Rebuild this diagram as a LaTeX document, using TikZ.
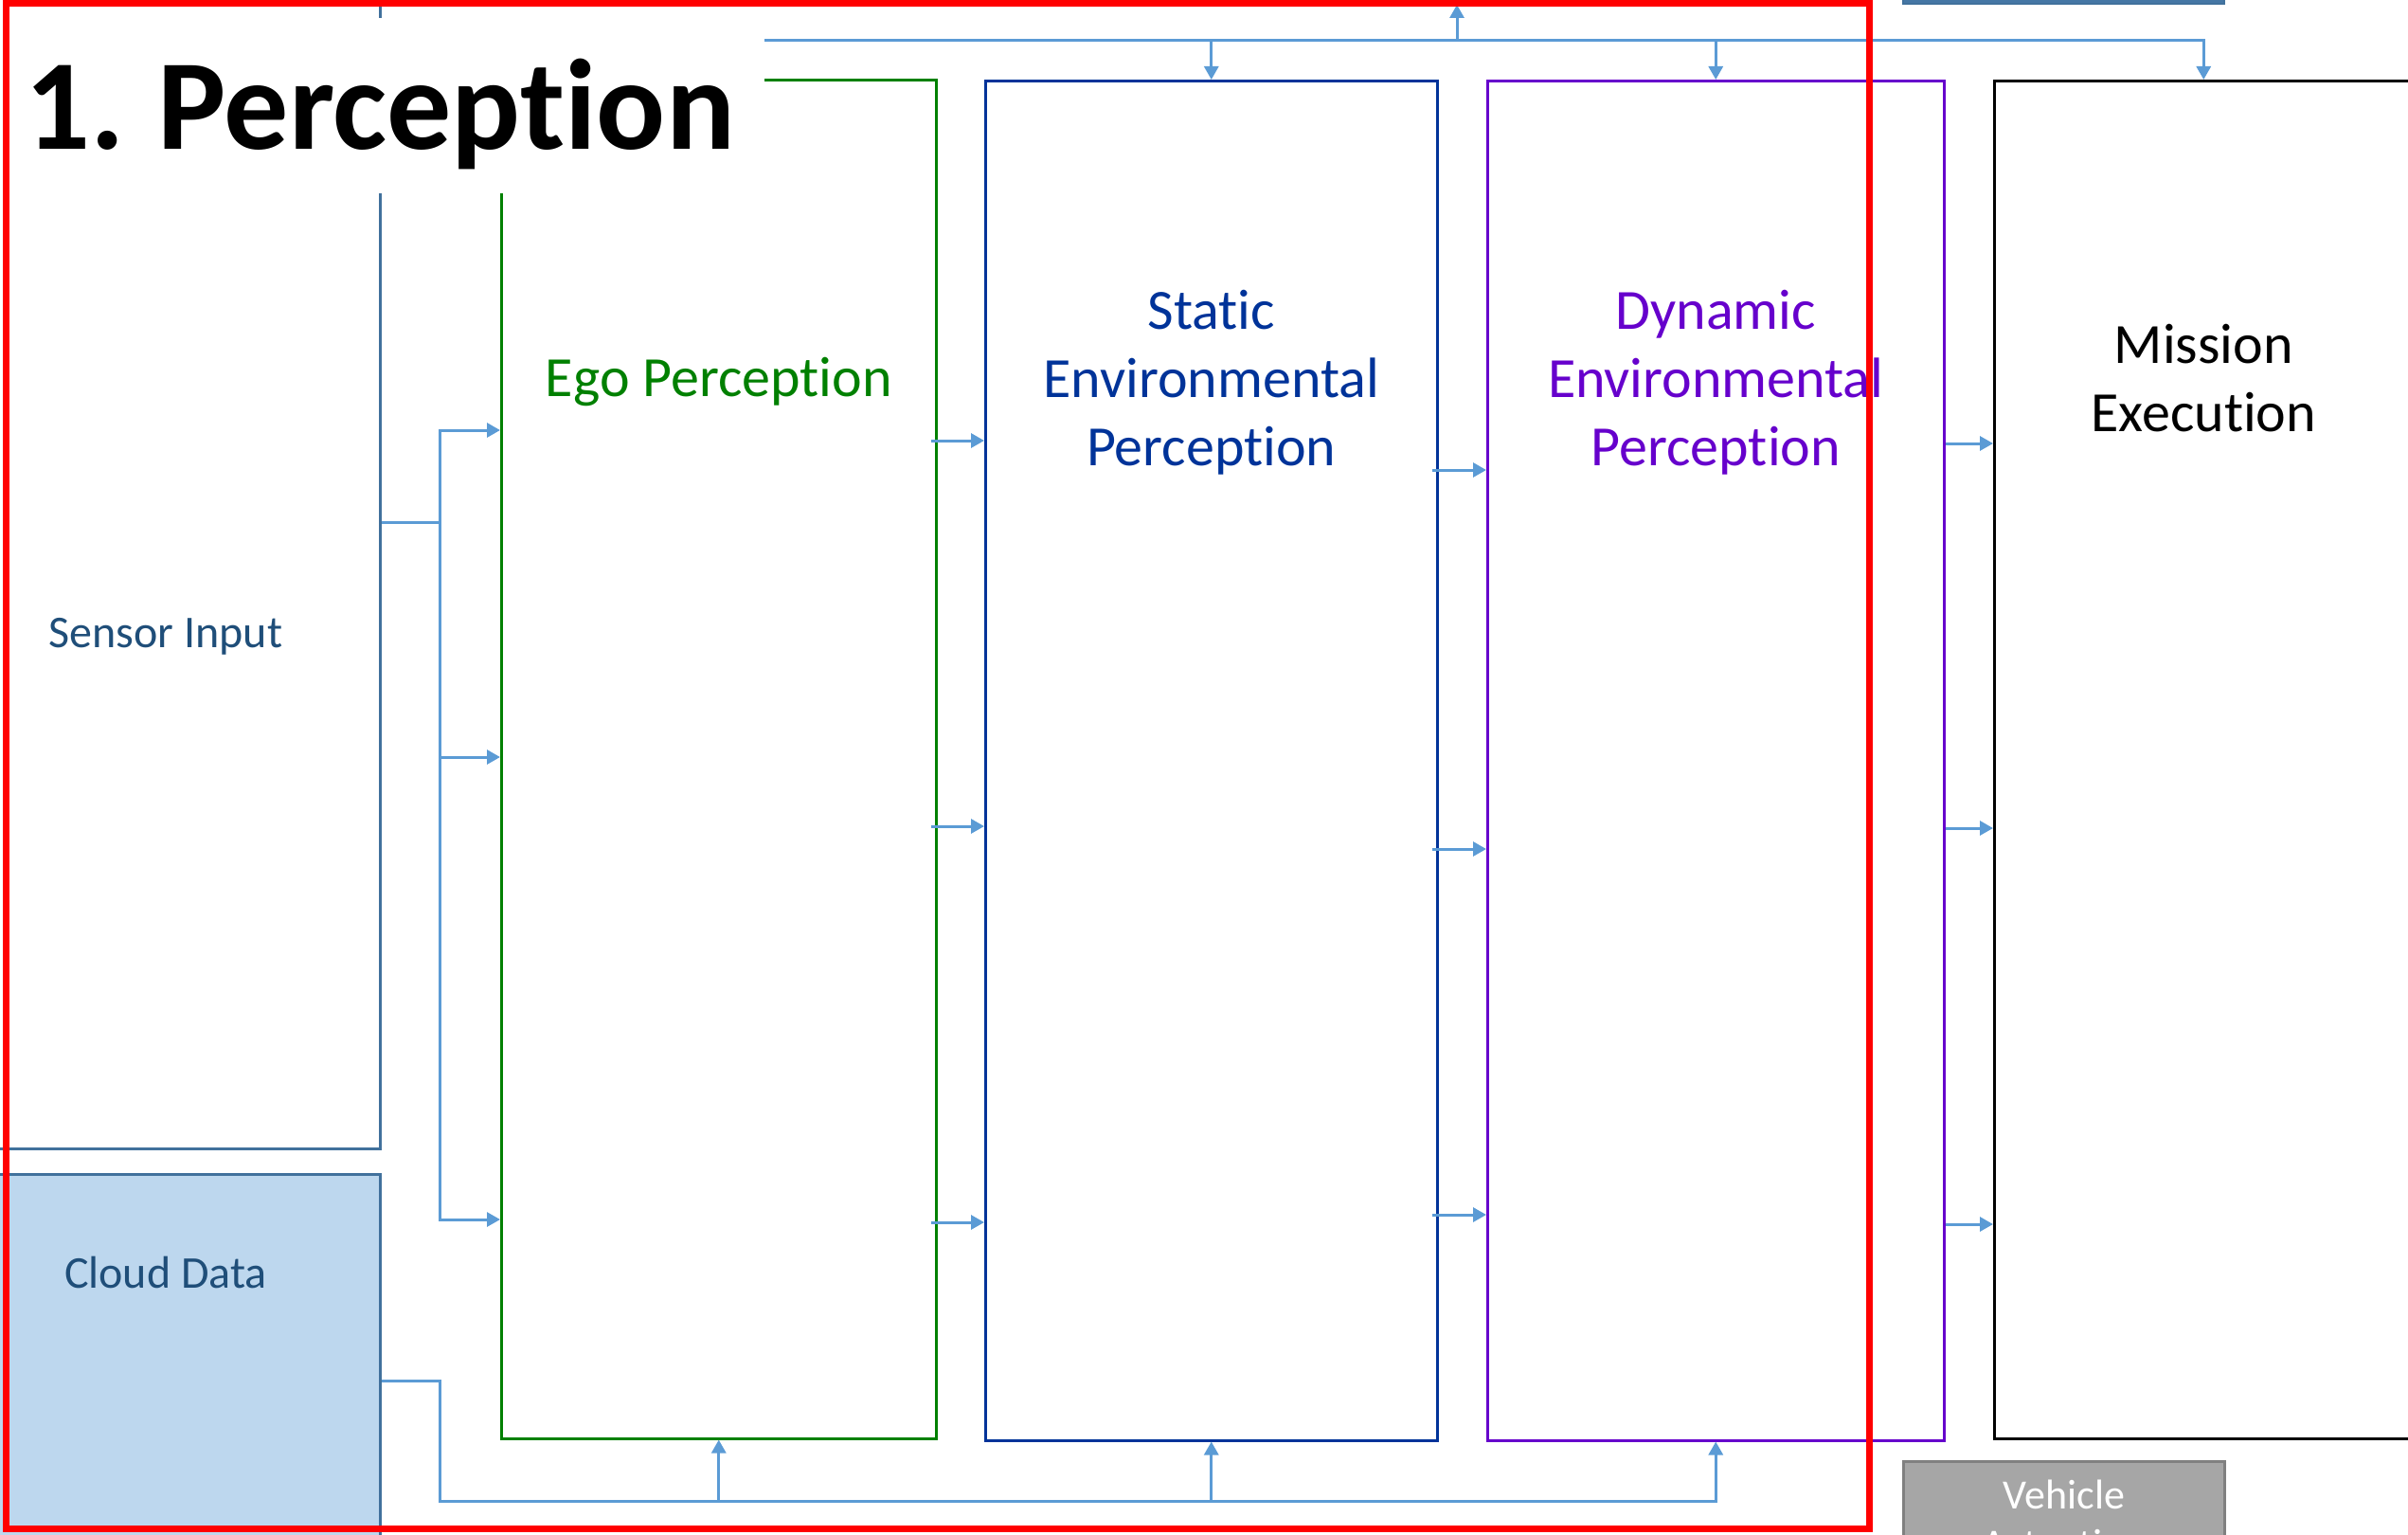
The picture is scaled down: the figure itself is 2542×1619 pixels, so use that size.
\documentclass[tikz,border=0pt]{standalone}
\usepackage{fontspec}
\setmainfont{Carlito}[Ligatures=NoCommon]
\usetikzlibrary{arrows.meta,calc}

\definecolor{linkblue}{HTML}{5B9BD5}
\definecolor{steel}{HTML}{41719C}
\definecolor{navy}{HTML}{1F4E79}
\definecolor{cloudfill}{HTML}{BDD7EE}
\definecolor{egogreen}{HTML}{008000}
\definecolor{staticblue}{HTML}{003399}
\definecolor{dynpurple}{HTML}{6600CC}
\definecolor{actgray}{HTML}{A6A6A6}
\definecolor{actborder}{HTML}{808080}

\tikzset{
  box/.style={draw, line width=2.5pt, rectangle, inner sep=0pt, anchor=north west},
  link/.style={draw=linkblue, line width=3pt, -{Triangle[length=14pt,width=15pt]}},
  stub/.style={link, shorten <=-7pt},
  txt/.style={inner sep=0pt, anchor=base},
  small/.style={font=\fontsize{48}{58}\selectfont},
  big/.style={font=\fontsize{60}{72}\selectfont},
}

\begin{document}
\begin{tikzpicture}[x=1pt, y=-1pt]
\clip (0,0) rectangle (2542,1619);

% inputs on the left
\node[box, draw=steel, fill=white, minimum width=420pt, minimum height=1231pt] (sensor) at (-20,-20) {};
\node[box, draw=steel, fill=cloudfill, minimum width=420pt, minimum height=482pt] (cloud) at (-20,1238) {};

% processing stages
\node[box, draw=egogreen, minimum width=459pt, minimum height=1434pt] (ego) at (528,83) {};
\node[box, draw=staticblue, minimum width=477pt, minimum height=1435pt] (static) at (1039,84) {};
\node[box, draw=dynpurple, minimum width=482pt, minimum height=1435pt] (dynamic) at (1569,84) {};
\node[box, draw=black, minimum width=442pt, minimum height=1433pt] (mission) at (2104,84) {};

% neighbouring blocks
\node[box, draw=steel, line width=2pt, fill=steel!85!linkblue, minimum width=339pt, minimum height=63pt] (upper) at (2008,-60) {};
\node[box, draw=actborder, line width=3pt, fill=actgray, minimum width=339pt, minimum height=178pt] (actuation) at (2008,1541) {};

% labels
\node[txt, small, text=navy] (sensortxt) at (175,683) {Sensor Input};
\node[txt, small, text=navy] (cloudlbl) at (175,1359) {Cloud Data};

\node[txt, big, text=egogreen] (egolbl) at (ego.center |- 0,418) {Ego Perception};

\node[txt, big, text=staticblue] (st1) at (static.center |- 0,347) {Static};
\node[txt, big, text=staticblue] (st2) at (static.center |- 0,419) {Environmental};
\node[txt, big, text=staticblue] (st3) at (static.center |- 0,491) {Perception};

\node[txt, big, text=dynpurple] (dy1) at (dynamic.center |- 0,347) {Dynamic};
\node[txt, big, text=dynpurple] (dy2) at (dynamic.center |- 0,419) {Environmental};
\node[txt, big, text=dynpurple] (dy3) at (dynamic.center |- 0,491) {Perception};

\node[txt, big, text=black] (mi1) at (mission.center |- 0,383) {Mission};
\node[txt, big, text=black] (mi2) at (mission.center |- 0,455) {Execution};

\node[txt, font=\fontsize{44}{53}\selectfont, text=white] (ac1) at (actuation.center |- 0,1592) {Vehicle};
\node[txt, font=\fontsize{44}{53}\selectfont, text=white] (ac2) at (actuation.center |- 0,1644) {Actuation};

% sensor input fan-out into ego perception
\coordinate (sj) at (464,551);
\draw[link] (sensor.east |- sj) -- (sj) |- (ego.west |- 0,454);
\draw[link] (sensor.east |- sj) -- (sj) |- (ego.west |- 0,799);
\draw[link] (sensor.east |- sj) -- (sj) |- (ego.west |- 0,1287);

% cloud data feeding every perception stage from below
\coordinate (cj) at (464,1457);
\coordinate (cb) at (464,1584);
\draw[link] (cloud.east |- cj) -- (cj) -- (cb) -| (ego.south);
\draw[link] (cloud.east |- cj) -- (cj) -- (cb) -| (static.south);
\draw[link] (cloud.east |- cj) -- (cj) -- (cb) -| (dynamic.south);

% stage to stage
\draw[stub] (ego.east |- 0,465) -- (static.west |- 0,465);
\draw[stub] (ego.east |- 0,872) -- (static.west |- 0,872);
\draw[stub] (ego.east |- 0,1290) -- (static.west |- 0,1290);

\draw[stub] (static.east |- 0,496) -- (dynamic.west |- 0,496);
\draw[stub] (static.east |- 0,896) -- (dynamic.west |- 0,896);
\draw[stub] (static.east |- 0,1282) -- (dynamic.west |- 0,1282);

\draw[link] (dynamic.east |- 0,468) -- (mission.west |- 0,468);
\draw[link] (dynamic.east |- 0,874) -- (mission.west |- 0,874);
\draw[link] (dynamic.east |- 0,1292) -- (mission.west |- 0,1292);

% top distribution bus
\coordinate (bus) at (640,43);
\coordinate (upout) at (1538,5);
\draw[link] (bus) -| (static.north);
\draw[link] (bus) -| (dynamic.north);
\draw[link] (bus) -| (mission.north);
\draw[link] (bus) -| (upout);

% title
\node[box, draw=none, fill=white, minimum width=811pt, minimum height=185pt] (titlebg) at (-5,18) {};
\node[txt, anchor=base west, font=\fontsize{136}{150}\selectfont\bfseries] (title) at (26,157) {1.\kern-6pt{} Perception};

% highlight frame
\draw[red, line width=7pt] (6.5,3.5) rectangle (1973,1613);
\end{tikzpicture}
\end{document}
